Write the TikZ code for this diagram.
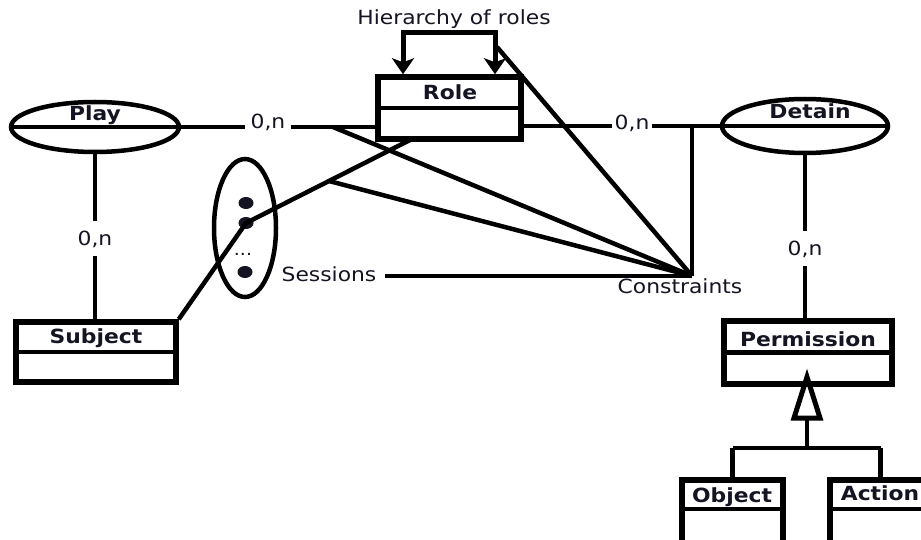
\documentclass[tikz,border=0pt]{standalone}
\usepackage{fontspec}
\setmainfont{DejaVu Sans}[FakeStretch=1.12]
\usetikzlibrary{arrows.meta,calc,shapes.geometric}
\definecolor{ink}{RGB}{20,20,35}

\begin{document}
\begin{tikzpicture}[x=1pt,y=-1pt,
  every node/.style={font=\fontsize{19.5}{23}\selectfont, text=ink, inner sep=0pt},
  classbox/.style={draw, rectangle, line width=5.5pt, inner sep=0pt},
  assoc/.style={draw, ellipse, line width=4.5pt, inner sep=0pt},
  title/.style={font=\bfseries\fontsize{19.5}{23}\selectfont, anchor=base},
  card/.style={anchor=base, inner xsep=5pt, inner ysep=9pt},
  link/.style={line width=4.5pt},
  divider/.style={line width=4.5pt},
  dot/.style={ellipse, fill=ink, minimum width=15pt, minimum height=12pt, inner sep=0pt},
  hier/.style={line width=5pt, {Stealth[length=16pt,width=22pt,inset=4pt]}-{Stealth[length=16pt,width=22pt,inset=4pt]}}
]
\fill[white] (0,0) rectangle (921,540);
\useasboundingbox (0,0) rectangle (921,540);
\clip (0,0) rectangle (921,540);

% associations (ellipses)
\node[assoc, minimum width=168pt, minimum height=50pt] (play) at (95,127) {};
\node[title] (playt) at (95,121) {Play};
\node[assoc, minimum width=166pt, minimum height=54pt] (detain) at (805,126) {};
\node[title] (detaint) at (810,119) {Detain};

% classes
\node[classbox, minimum width=143pt, minimum height=62pt] (role) at (449.5,108) {};
\draw[divider] (role.west) -- (role.east);
\node[title] (rolet) at (450,100) {Role};

\node[classbox, minimum width=160pt, minimum height=60pt] (subject) at (96,352) {};
\draw[divider] (subject.west) -- (subject.east);
\node[title] (subjectt) at (96,343) {Subject};

\node[classbox, minimum width=168pt, minimum height=63pt] (perm) at (808,352.5) {};
\draw[divider] (perm.west) -- (perm.east);
\node[title] (permt) at (808,346) {Permission};

\node[classbox, minimum width=101pt, minimum height=68pt] (obj) at (732.5,514) {};
\draw[divider] (obj.west |- 0,509) -- (obj.east |- 0,509);
\node[title] (objt) at (732,502) {Object};

\node[classbox, minimum width=101pt, minimum height=68pt] (act) at (880.5,514) {};
\draw[divider] (act.west |- 0,509) -- (act.east |- 0,509);
\node[title] (actt) at (880,500) {Action};

% sessions
\node[assoc, minimum width=62pt, minimum height=138pt] (sess) at (245,228) {};
\node[dot] (d1) at (246,203) {};
\node[dot] (d2) at (246,223) {};
\node[dot] (d3) at (245,272) {};
\node[font=\fontsize{17}{17}\selectfont] (ddd) at (243,254) {...};
\node[anchor=base] (sesst) at (329,281) {Sessions};

% cardinalities
\node[card] (on1) at (268,129) {0,n};
\node[card, inner xsep=2pt] (on2) at (632,130) {0,n};
\node[card] (on3) at (95,245) {0,n};
\node[card] (on4) at (805,255) {0,n};

% labels
\node[anchor=base] (hiert) at (454,25) {Hierarchy of roles};
\node (const) at (680,286) {Constraints};

% named points
\coordinate (junc) at (692,126);
\coordinate (con) at (692,276);
\coordinate (p1) at (333,127);
\coordinate (p3) at (497,47);
\coordinate (rb) at (412,139);
\coordinate (hl) at (403,33);
\coordinate (hr) at (495,33);
\coordinate (gtip) at (807,377);
\coordinate (gbl) at (794,418);
\coordinate (gbr) at (820,418);
\coordinate (gb) at (807,418);
\coordinate (bar) at (807,448);

% association lines
\draw[link] (play.west) -- (on1.west |- play.center);
\draw[link] (on1.east |- play.center) -- (role.west |- play.center);
\draw[link] (role.east |- detain.center) -- (on2.west |- detain.center);
\draw[link] (on2.east |- detain.center) -- (detain.east);
\draw[link] (play.south) -- (on3.north);
\draw[link] (on3.south) -- (on3.south |- subject.north);
\draw[link] (detain.south) -- (on4.north);
\draw[link] (on4.south) -- (on4.south |- perm.north);

% hierarchy of roles
\draw[hier] (hl |- role.north) -- (hl) -- (hr) -- (hr |- role.north);

% subject - session - role
\draw[link] (subject.north east) -- (d2.center) -- (rb);
\coordinate (p2) at ($(d2.center)!0.5!(rb)$);

% constraints
\draw[link] (junc) -- (con);
\draw[link] (p1) -- (con);
\draw[link] (p2) -- (con);
\draw[link] (p3) -- (con);
\draw[link] ($(sesst.east |- con)+(8,0)$) -- (con);

% generalization
\draw[line width=5pt, line join=miter] (gtip) -- (gbl) -- (gbr) -- cycle;
\draw[link] (gb) -- (bar);
\draw[link] (obj.north |- bar) -- (act.north |- bar);
\draw[link] (obj.north |- bar) -- (obj.north);
\draw[link] (act.north |- bar) -- (act.north);
\end{tikzpicture}
\end{document}
